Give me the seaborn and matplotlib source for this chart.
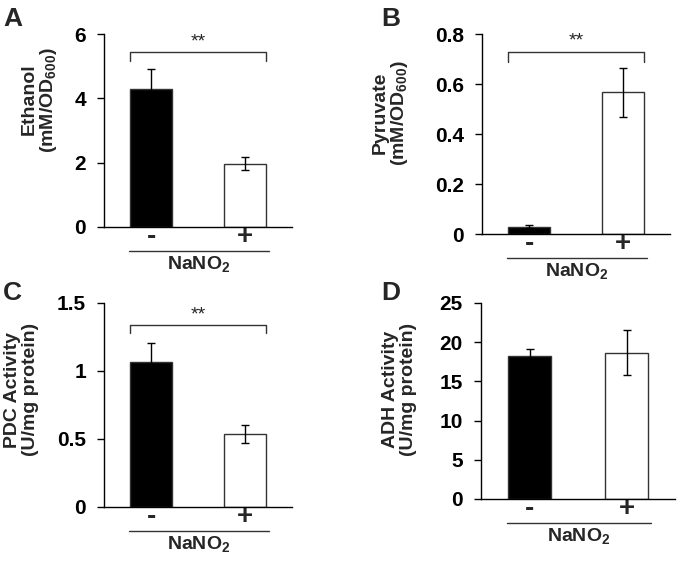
import matplotlib

matplotlib.use("Agg")
import matplotlib.pyplot as plt
import pandas as pd
import seaborn as sns

sns.set_theme(style="ticks")
plt.rcParams["font.family"] = ["Liberation Sans", "DejaVu Sans"]
plt.rcParams["mathtext.fontset"] = "custom"
plt.rcParams["mathtext.rm"] = "Liberation Sans:bold"
plt.rcParams["mathtext.bf"] = "Liberation Sans:bold"

# --- data -------------------------------------------------------------------
conditions = ["-", "+"]
panel_letters = ["A", "B", "C", "D"]

ethanol_mean = [4.28, 1.97]
ethanol_err = [0.62, 0.21]
pyruvate_mean = [0.029, 0.567]
pyruvate_err = [0.006, 0.097]
pdc_mean = [1.068, 0.534]
pdc_err = [0.138, 0.067]
adh_mean = [18.2, 18.65]
adh_err = [0.88, 2.87]

ylabels = [
    "Ethanol\n(mM/OD$_{\\mathbf{600}}$)",
    "Pyruvate\n(mM/OD$_{\\mathbf{600}}$)",
    "PDC Activity\n(U/mg protein)",
    "ADH Activity\n(U/mg protein)",
]
yticks = [[0, 2, 4, 6], [0, 0.2, 0.4, 0.6, 0.8], [0, 0.5, 1, 1.5], [0, 5, 10, 15, 20, 25]]
ytick_labels = [["0", "2", "4", "6"], ["0", "0.2", "0.4", "0.6", "0.8"],
                ["0", "0.5", "1", "1.5"], ["0", "5", "10", "15", "20", "25"]]
# bracket level, bracket foot, star level (None -> no significance bracket)
brackets = [(5.43, 5.15, 5.48), (0.73, 0.69, 0.74), (1.335, 1.28, 1.35), None]
xlabel = "NaNO$_2$"

means = [ethanol_mean, pyruvate_mean, pdc_mean, adh_mean]
errs = [ethanol_err, pyruvate_err, pdc_err, adh_err]

# --- layout (pixel boxes: left, right, top, bottom) ------------------------
W, H = 685, 563
boxes = [(104, 292, 34, 227), (482, 670, 34, 234), (104, 292, 303, 507), (481, 675, 303, 499)]
label_pos = [(-0.34, 0.66), (-0.485, 0.605), (-0.44, 0.575), (-0.42, 0.557)]
letter_pos = [(3, 7), (381, 7), (3, 281), (381, 281)]
BAR_W = 0.45

fig = plt.figure(figsize=(W / 100, H / 100), dpi=100)

for i in range(4):
    l, r, t, b = boxes[i]
    ax = fig.add_axes([l / W, (H - b) / H, (r - l) / W, (b - t) / H])
    df = pd.DataFrame({"cond": conditions, "val": means[i]})
    sns.barplot(data=df, x="cond", y="val", hue="cond", palette=["black", "white"],
                edgecolor="#333333", linewidth=1.0, width=BAR_W, errorbar=None,
                legend=False, ax=ax)
    ax.errorbar([0, 1], means[i], yerr=errs[i], fmt="none", ecolor="black",
                elinewidth=1.0, capsize=3, capthick=1.0, zorder=5)

    ax.set_xlim(-0.5, 1.5)
    ax.set_ylim(yticks[i][0], yticks[i][-1])
    ax.set_yticks(yticks[i])
    ax.set_yticklabels(ytick_labels[i], fontsize=15, fontweight="bold")
    ax.set_xticks([0, 1])
    ax.set_xticklabels(conditions, fontsize=20, fontweight="bold")
    ax.tick_params(axis="x", length=0, pad=-2)
    ax.tick_params(axis="y", length=5, width=1, direction="out", pad=8, colors="black")
    ax.set_xlabel("")
    ax.set_ylabel(ylabels[i], fontsize=14, fontweight="bold", va="center",
                  linespacing=1.05)
    ax.yaxis.set_label_coords(*label_pos[i])
    for s in ["top", "right"]:
        ax.spines[s].set_visible(False)
    for s in ["left", "bottom"]:
        ax.spines[s].set_color("black")
        ax.spines[s].set_linewidth(1.0)

    # underline + treatment label below the x tick labels
    hpx = b - t
    trans = ax.get_xaxis_transform()
    ax.plot([-0.23, 1.25], [-24 / hpx] * 2, color="#333333", lw=1.0,
            transform=trans, clip_on=False)
    ax.text(0.51, -38 / hpx, xlabel, transform=trans, ha="center", va="center",
            fontsize=14, fontweight="bold")

    if brackets[i] is not None:
        top, foot, star = brackets[i]
        ax.plot([-BAR_W / 2, -BAR_W / 2, 1 + BAR_W / 2, 1 + BAR_W / 2],
                [foot, top, top, foot], color="#333333", lw=1.0, clip_on=False)
        ax.text(0.5, star, "**", ha="center", va="bottom", fontsize=14)

    lx, ly = letter_pos[i]
    fig.text(lx / W, 1 - ly / H, panel_letters[i], ha="left", va="top",
             fontsize=19, fontweight="bold")

fig.savefig("out.png", dpi=100)
